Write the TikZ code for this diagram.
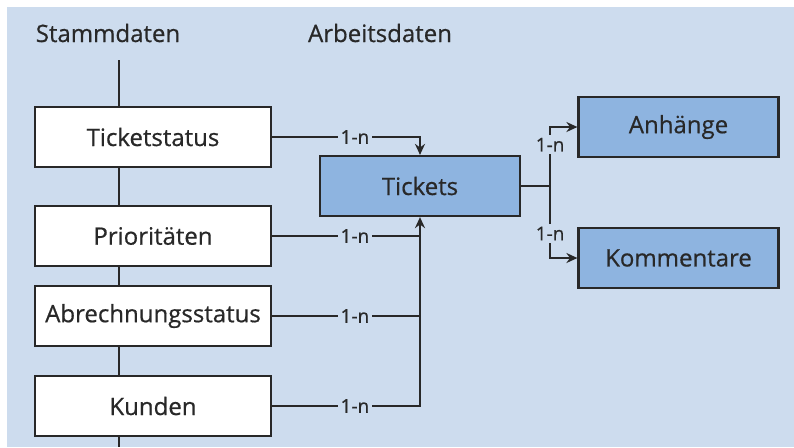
\documentclass[tikz,border=0pt]{standalone}
\usepackage{fontspec}
\setmainfont{Open Sans}[FakeBold=0.6]
\usetikzlibrary{arrows.meta,positioning}
\definecolor{bgblue}{RGB}{205,220,238}
\definecolor{boxblue}{RGB}{142,180,224}
\definecolor{linegray}{RGB}{40,40,40}

\begin{document}
\begin{tikzpicture}[x=0.5pt,y=-0.5pt,line width=1.1pt,color=linegray,
      >={Stealth[width=5pt,length=5.5pt]},
      stamm/.style={draw,fill=white,minimum width=118pt,minimum height=30pt,
         inner sep=0pt,font=\fontsize{12}{14}\selectfont},
      arbeit/.style={stamm,fill=boxblue,minimum width=100pt},
      card/.style={fill=bgblue,inner sep=1.5pt,font=\fontsize{9.5}{11}\selectfont},
      head/.style={font=\fontsize{12}{14}\selectfont}]
      \useasboundingbox(0,0)rectangle(794,447);
      \fill[bgblue](7,7)rectangle(794,447);
      \node[head](stamm)at(108,33){Stammdaten};
      \node[head](arbeit)at(380,33){Arbeitsdaten};
      % Stammdaten-Spalte
      \coordinate(spinetop)at(119,60);
      \coordinate(spinebot)at(119,447);
      \draw(spinetop)--(spinebot);
      \node[stamm](status)at(153,137){Ticketstatus};
      \node[stamm](prio)at(153,236){Prioritäten};
      \node[stamm](abr)at(153,316){Abrechnungsstatus};
      \node[stamm](kunden)at(153,406){Kunden};
      % Arbeitsdaten
      \node[arbeit](tickets)at(420,186){Tickets};
      \node[arbeit](anh)at(678.5,127){Anhänge};
      \node[arbeit](komm)at(678.5,258){Kommentare};
      \draw[->](status.east)-|node[card,pos=0.28]{1-n}(tickets.north);
      \draw[->](kunden.east)-|node[card,pos=0.28]{1-n}(tickets.south);
      \draw(prio.east)--node[card,pos=0.56]{1-n}(prio.east-|tickets.south);
      \draw(abr.east)--node[card,pos=0.56]{1-n}(abr.east-|tickets.south);
      \draw(tickets.east)--++(29,0)coordinate(fork);
      \draw[->](fork)|-node[card,pos=0.35]{1-n}(anh.west);
      \draw[->](fork)|-node[card,pos=0.33]{1-n}(komm.west);
    \end{tikzpicture}
\end{document}
